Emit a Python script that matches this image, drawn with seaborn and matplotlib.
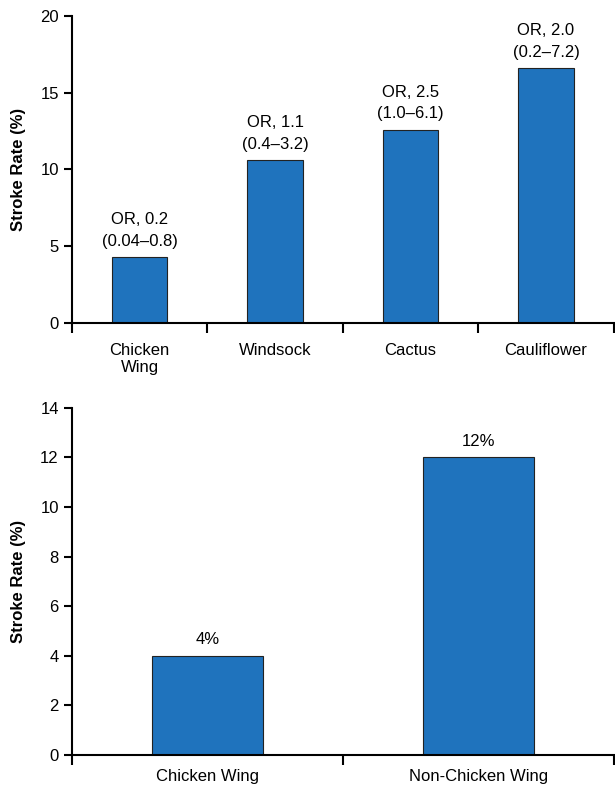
import numpy as np
import matplotlib
matplotlib.use("Agg")
import matplotlib.pyplot as plt
import seaborn as sns

# top panel: stroke rate by shape
shapes = ["Chicken\nWing", "Windsock", "Cactus", "Cauliflower"]
shape_rates = [4.3, 10.6, 12.6, 16.6]
shape_notes = ["OR, 0.2\n(0.04\u20130.8)", "OR, 1.1\n(0.4\u20133.2)",
               "OR, 2.5\n(1.0\u20136.1)", "OR, 2.0\n(0.2\u20137.2)"]

# bottom panel: chicken wing vs the rest
groups = ["Chicken Wing", "Non-Chicken Wing"]
group_rates = [4, 12]
group_notes = ["4%", "12%"]

sns.set_style("ticks", {"text.color": "black", "axes.edgecolor": "black",
                        "xtick.color": "black", "ytick.color": "black",
                        "axes.labelcolor": "black"})
plt.rcParams["font.family"] = ["Liberation Sans", "DejaVu Sans"]

bar_color = "#1f73bd"

fig = plt.figure(figsize=(6.15, 7.92), dpi=100)
ax1 = fig.add_axes([0.117, 0.592, 0.881, 0.388])
ax2 = fig.add_axes([0.117, 0.047, 0.881, 0.438])


def draw(ax, cats, vals, notes, ymax, ystep, xpad):
    sns.barplot(x=cats, y=vals, ax=ax, color=bar_color, width=0.41,
                edgecolor="#222222", linewidth=0.8, saturation=1)
    n = len(cats)
    ax.set_xlim(-0.5, n - 0.5)
    ax.set_ylim(0, ymax)
    ax.set_yticks(np.arange(0, ymax + 0.01, ystep))
    ax.set_xticks(np.arange(n + 1) - 0.5)
    ax.set_xticklabels([])
    ax.set_xticks(np.arange(n), cats, minor=True)
    ax.tick_params(axis="x", which="minor", length=0, pad=xpad, labelsize=12)
    ax.tick_params(axis="x", which="major", length=7, width=1.5, direction="out")
    ax.tick_params(axis="y", length=6, width=1.5, labelsize=12)
    for s in ["top", "right"]:
        ax.spines[s].set_visible(False)
    for s in ["left", "bottom"]:
        ax.spines[s].set_linewidth(1.5)
    for i, (v, t) in enumerate(zip(vals, notes)):
        ax.annotate(t, (i, v), xytext=(0, 6), textcoords="offset points",
                    ha="center", va="bottom", fontsize=12, linespacing=1.55)
    ax.set_ylabel("Stroke Rate (%)", fontsize=12, fontweight="bold", labelpad=10)


draw(ax1, shapes, shape_rates, shape_notes, 20, 5, 14)
draw(ax2, groups, group_rates, group_notes, 14, 2, 10)

fig.savefig("out.png", dpi=100)
